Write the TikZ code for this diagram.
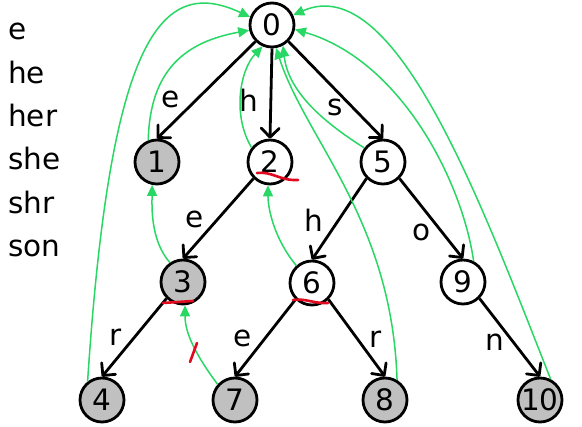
\documentclass[tikz,border=0pt]{standalone}
\usepackage{fontspec}
\setmainfont{DejaVu Sans}
\usetikzlibrary{arrows.meta}
\definecolor{faillink}{RGB}{40,215,100}
\definecolor{cutmark}{RGB}{225,10,30}
\definecolor{outfill}{RGB}{192,192,192}
\tikzset{
  state/.style={circle,draw,line width=2.8pt,minimum size=44pt,inner sep=0pt,fill=white},
  final/.style={state,fill=outfill},
  edge/.style={line width=2.8pt,-{Straight Barb[length=9pt,width=18pt,round]}},
  fail/.style={faillink,line width=1.5pt,-{Triangle[length=11pt,width=10pt]}},
  cut/.style={cutmark,line width=2.6pt,line cap=round},
  lbl/.style={inner sep=0pt}
}
\begin{document}
\begin{tikzpicture}[x=1pt,y=-1pt,font=\fontsize{29.5}{35}\selectfont]
\useasboundingbox (0,0) rectangle (582,427);
\foreach \w [count=\i] in {e,he,her,she,shr,son}
  \node[anchor=base west,inner sep=0pt] (w\i) at (8,{40+43.3*(\i-1)}) {\w};

\node[state] (n0) at (272,25) {0};
\node[final] (n1) at (157,162) {1};
\node[state] (n2) at (270,162) {2};
\node[state] (n5) at (383,162) {5};
\node[final] (n3) at (183,282) {3};
\node[state] (n6) at (312,283) {6};
\node[state] (n9) at (463,282) {9};
\node[final] (n4) at (102,400) {4};
\node[final] (n7) at (235,400) {7};
\node[final] (n8) at (385,400) {8};
\node[final] (n10) at (540,400) {10};

\draw[edge] (n0.south west) -- (n1.north) node[lbl,pos=0.6,left=15pt] {e};
\draw[edge] (n0.south) -- (n2.north) node[lbl,pos=0.58,left=11pt] {h};
\draw[edge] (n0.south east) -- (n5.north) node[lbl,pos=0.68,left=9pt] {s};
\draw[edge] (n2.south west) -- (n3.north) node[lbl,pos=0.51,left=12pt] {e};
\draw[edge] (n5.south west) -- (n6.north) node[lbl,pos=0.51,left=14pt] {h};
\draw[edge] (n5.south east) -- (n9.north) node[lbl,pos=0.67,left=10pt] {o};
\draw[edge] (n3.south west) -- (n4.north) node[lbl,pos=0.49,left=12pt] {r};
\draw[edge] (n6.south west) -- (n7.north) node[lbl,pos=0.51,left=12pt] {e};
\draw[edge] (n6.south east) -- (n8.north) node[lbl,pos=0.52,right=10pt] {r};
\draw[edge] (n9.south east) -- (n10.north) node[lbl,pos=0.56,left=8pt] {n};

\draw[fail] (n4.128) .. controls (110,40) and (160,-25) .. (n0.160);
\draw[fail] (n1.112) .. controls (150,70) and (185,42) .. (n0.193);
\draw[fail] (n3.124) .. controls (150,240) and (152,205) .. (n1.258);
\draw[fail] (n7.138) .. controls (192,350) and (185,330) .. (n3.275);
\draw[fail] (n2.142) .. controls (232,115) and (240,70) .. (n0.246);
\draw[fail] (n6.132) .. controls (275,240) and (268,210) .. (n2.265);
\draw[fail] (n5.143) .. controls (320,120) and (288,90) .. (n0.298);
\draw[fail] (n8.59) .. controls (392,220) and (306,140) .. (n0.280);
\draw[fail] (n9.63) .. controls (462,180) and (400,60) .. (n0.349);
\draw[fail] (n10.63) .. controls (480,200) and (395,-30) .. (n0.25);

\draw[cut] (257,173) .. controls (272,171) and (280,181) .. (298,180);
\draw[cut] (163,303) -- (193,301);
\draw[cut] (293,300) .. controls (305,298) and (315,304) .. (328,303);
\draw[cut] (190,362) -- (197,343);
\end{tikzpicture}
\end{document}
